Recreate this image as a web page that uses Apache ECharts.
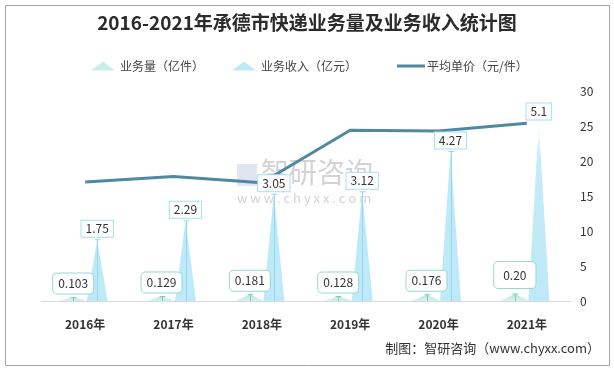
<!DOCTYPE html>
<html><head><meta charset="utf-8">
<script src="https://cdn.jsdelivr.net/npm/echarts@6/dist/echarts.min.js"></script>
<style>html,body{margin:0;padding:0;background:#fff}#c{width:614px;height:369px}</style>
</head><body><div id="c"></div>
<script>
var categories = ['2016年','2017年','2018年','2019年','2020年','2021年'];
var volume = [0.103, 0.129, 0.181, 0.128, 0.176, 0.20];
var volumeLabels = ['0.103', '0.129', '0.181', '0.128', '0.176', '0.20'];
var revenue = [1.75, 2.29, 3.05, 3.12, 4.27, 5.1];
var price = [17.0, 17.8, 16.9, 24.4, 24.3, 25.4];
var rightTicks = [0, 5, 10, 15, 20, 25, 30];

var chart = echarts.init(document.getElementById('c'));
var FONT = '"Noto Sans CJK SC", "Noto Sans", sans-serif';

function capLines(values, offset, color, skipLast) {
  return {
    type: 'custom', yAxisIndex: 0, z: 3, silent: true,
    data: values.map(function (v, i) { return [i, v]; }),
    renderItem: function (params, api) {
      var i = api.value(0);
      if (skipLast && i === values.length - 1) return null;
      var top = api.coord([i, api.value(1)]);
      var base = api.coord([i, 0]);
      var x = Math.round(top[0] + offset) + 0.5;
      return { type: 'group', children: [
        { type: 'line', shape: { x1: x, y1: top[1], x2: x, y2: base[1] }, style: { stroke: color, lineWidth: 1 } },
        { type: 'line', shape: { x1: x - 3, y1: top[1], x2: x + 3, y2: top[1] }, style: { stroke: color, lineWidth: 1 } }
      ]};
    }
  };
}

var revData = revenue.map(function (v, i) {
  if (i === revenue.length - 1) {
    return { value: v, itemStyle: { color: new echarts.graphic.LinearGradient(0, 0, 0, 1, [
      { offset: 0, color: 'rgba(190,233,248,0)' }, { offset: 0.2, color: 'rgba(190,233,248,0.9)' }, { offset: 1, color: '#bfe9f8' }]) } };
  }
  return v;
});
var volData = volume.map(function (v, i) {
  if (i === volume.length - 1) {
    return { value: v, label: { padding: [7, 9], distance: 6 } };
  }
  return v;
});

chart.setOption({
  animation: false,
  backgroundColor: '#fff',
  title: {
    text: '2016-2021年承德市快递业务量及业务收入统计图',
    left: 'center', top: 8,
    textStyle: { fontFamily: '"Noto Sans CJK SC", serif', fontSize: 19, fontWeight: 'bold', color: '#2b2b2b' }
  },
  legend: [
    {
      top: 55, left: 86, itemGap: 28, itemWidth: 24, itemHeight: 9,
      textStyle: { fontFamily: FONT, fontSize: 12, color: '#444' },
      data: [
        { name: '业务量（亿件）', icon: 'triangle', itemStyle: { color: '#c9ece6' } },
        { name: '业务收入（亿元）', icon: 'triangle', itemStyle: { color: '#bfe9f8' } }
      ]
    },
    {
      top: 55, left: 392, itemWidth: 28, itemHeight: 3,
      textStyle: { fontFamily: FONT, fontSize: 12, color: '#444', padding: [0, 0, 0, -3] },
      data: [{ name: '平均单价（元/件）', icon: 'rect', itemStyle: { color: '#5088a0' } }]
    }
  ],
  grid: { left: 41, right: 43, top: 91, bottom: 68 },
  xAxis: {
    type: 'category', data: categories,
    axisLine: { lineStyle: { color: '#d9d9d9', width: 1 } },
    axisTick: { show: false },
    axisLabel: { margin: 17, fontFamily: FONT, fontSize: 12, fontWeight: 'bold', color: '#333' }
  },
  yAxis: [
    { type: 'value', min: 0, max: 6, show: false, splitLine: { show: false } },
    { type: 'value', min: 0, max: 30, interval: 5, position: 'right',
      axisLine: { show: false }, axisTick: { show: false }, splitLine: { show: false },
      axisLabel: { margin: 9, fontFamily: FONT, fontSize: 12, color: '#333',
        formatter: function (v) { return rightTicks.indexOf(v) >= 0 ? String(v) : ''; } } }
  ],
  series: [
    {
      name: '业务量（亿件）', type: 'pictorialBar', yAxisIndex: 0,
      symbol: 'triangle', symbolSize: [30, '100%'], barWidth: 24, barGap: '0%',
      itemStyle: { color: new echarts.graphic.LinearGradient(0, 0, 0, 1, [
        { offset: 0, color: '#b5e3da' }, { offset: 1, color: '#dcf3ef' }]) },
      label: { show: true, position: 'top', distance: 4, color: '#333', fontFamily: FONT, fontSize: 12,
        backgroundColor: '#fff', borderColor: '#97d8cd', borderWidth: 1, borderRadius: 4, padding: [4, 5],
        formatter: function (p) { return volumeLabels[p.dataIndex]; } },
      data: volData, z: 2
    },
    {
      name: '业务收入（亿元）', type: 'pictorialBar', yAxisIndex: 0,
      symbol: 'triangle', symbolSize: [21, '100%'], barWidth: 24, barGap: '0%',
      itemStyle: { color: '#bfe9f8' },
      label: { show: true, position: 'top', distance: 3, color: '#333', fontFamily: FONT, fontSize: 12,
        backgroundColor: '#fff', borderColor: '#a5dff2', borderWidth: 1, padding: [2, 4] },
      data: revData, z: 2
    },
    capLines(volume, -12, '#7fcabd', false),
    capLines(revenue, 12, '#93d8ee', true),
    {
      name: '平均单价（元/件）', type: 'line', yAxisIndex: 1,
      data: price, symbol: 'none', smooth: false,
      lineStyle: { color: '#5088a0', width: 3 }, itemStyle: { color: '#5088a0' }, z: 1
    }
  ],
  graphic: [
    { type: 'rect', left: 3, top: 3, shape: { width: 604, height: 360 }, style: { fill: 'none', stroke: '#a6a6a6', lineWidth: 1 }, silent: true },
    { type: 'rect', left: 237, top: 164, shape: { width: 20, height: 22 }, z: 0, silent: true, style: { fill: 'rgba(140,160,205,0.28)' } },
    { type: 'text', left: 261, top: 158, z: 0, silent: true, style: { text: '智研咨询', fontSize: 28, fontFamily: FONT, fill: 'rgba(150,150,150,0.42)' } },
    { type: 'text', left: 237, top: 192, z: 0, silent: true, style: { text: 'w w w . c h y x x . c o m', fontSize: 13, fontFamily: FONT, fill: 'rgba(150,150,150,0.42)' } },
    { type: 'text', right: 14, top: 342, style: { text: '制图：智研咨询（www.chyxx.com）', fontSize: 13, fontFamily: FONT, fill: '#333' } }
  ]
});
</script></body></html>
